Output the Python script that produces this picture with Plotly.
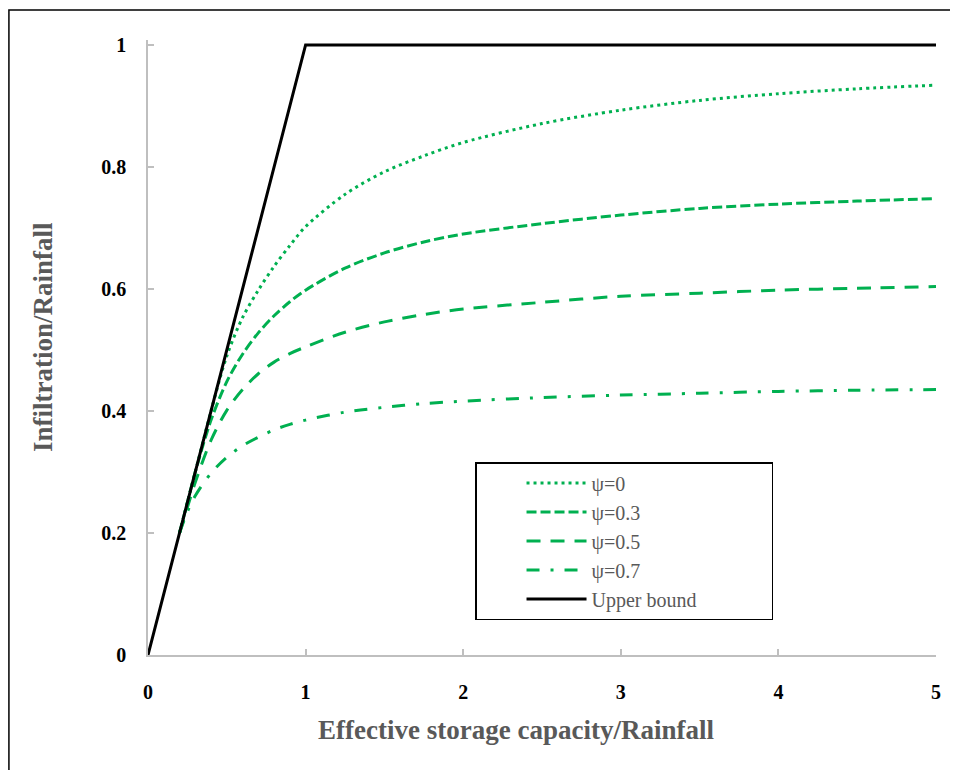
import plotly.graph_objects as go

# ---- data ----
x_pts = [0.2, 0.25, 0.3, 0.4, 0.5, 0.6, 0.7, 0.8, 0.9, 1.0, 1.25, 1.5, 1.75, 2.0, 2.5, 3.0, 3.5, 4.0, 4.5, 5.0]
psi_0 = [0.2, 0.25, 0.3, 0.4, 0.49, 0.553, 0.598, 0.637, 0.671, 0.702, 0.755, 0.792, 0.818, 0.840, 0.871, 0.893, 0.909, 0.920, 0.928, 0.934]
psi_03 = [0.2, 0.25, 0.3, 0.385, 0.448, 0.493, 0.528, 0.556, 0.579, 0.598, 0.634, 0.659, 0.677, 0.690, 0.707, 0.721, 0.732, 0.739, 0.744, 0.748]
psi_05 = [0.2, 0.242, 0.283, 0.352, 0.401, 0.435, 0.461, 0.480, 0.494, 0.505, 0.529, 0.546, 0.558, 0.567, 0.578, 0.588, 0.593, 0.598, 0.601, 0.604]
psi_07 = [0.2, 0.235, 0.261, 0.298, 0.324, 0.343, 0.357, 0.369, 0.378, 0.385, 0.398, 0.406, 0.412, 0.416, 0.422, 0.426, 0.429, 0.432, 0.434, 0.435]
bound_x = [0, 1, 5]
bound_y = [0, 1, 1]

series_names = ["ψ=0", "ψ=0.3", "ψ=0.5", "ψ=0.7"]
series_vals = [psi_0, psi_03, psi_05, psi_07]
series_dash = ["3px,4px", "10px,4px", "14px,10px", "13px,11px,3px,11px"]

x_ticks = [0, 1, 2, 3, 4, 5]
y_ticks = [0, 0.2, 0.4, 0.6, 0.8, 1]
y_tick_text = ["0", "0.2", "0.4", "0.6", "0.8", "1"]

GREEN = "#00B050"
SERIF = "Liberation Serif, Times New Roman, serif"
NB = "\u00a0"

fig = go.Figure()
for name, vals, dash in zip(series_names, series_vals, series_dash):
    fig.add_trace(go.Scatter(
        x=x_pts, y=vals, mode="lines", name=name,
        line=dict(color=GREEN, width=3, dash=dash, shape="spline", smoothing=0.9),
    ))
fig.add_trace(go.Scatter(
    x=bound_x, y=bound_y, mode="lines", name="Upper bound" + NB * 14,
    line=dict(color="black", width=3),
))

axis_common = dict(
    showgrid=False, zeroline=False, showline=True, linecolor="#BFBFBF", linewidth=1.5,
    ticks="inside", ticklen=6, tickwidth=1.5, tickcolor="#BFBFBF",
    tickfont=dict(family=SERIF, size=20, color="black", weight="bold"),
)

fig.update_layout(
    width=950, height=762,
    margin=dict(l=140, r=22, t=32, b=115),
    paper_bgcolor="white", plot_bgcolor="white",
    xaxis=dict(range=[0, 5], tickvals=x_ticks, ticklabelstandoff=18, **axis_common),
    yaxis=dict(range=[0, 1.008], tickvals=y_ticks, ticktext=y_tick_text, ticklabelstandoff=16, **axis_common),
    showlegend=True,
    legend=dict(
        x=0.415, y=0.3138, xanchor="left", yanchor="top",
        bgcolor="white", bordercolor="black", borderwidth=1.5,
        font=dict(family=SERIF, size=20, color="#595959"),
        itemwidth=60, tracegroupgap=0,
        title=dict(text=NB * 7, side="left", font=dict(family=SERIF, size=20)),
    ),
    annotations=[
        dict(text="<b>Effective storage capacity/Rainfall</b>", xref="paper", yref="paper",
             x=0.467, y=-0.122, xanchor="center", yanchor="middle", showarrow=False,
             font=dict(family=SERIF, size=27, color="#595959")),
        dict(text="<b>Infiltration/Rainfall</b>", xref="paper", yref="paper",
             x=-0.1332, y=0.517, xanchor="center", yanchor="middle", showarrow=False, textangle=-90,
             font=dict(family=SERIF, size=27, color="#595959")),
    ],
    shapes=[
        dict(type="rect", xref="paper", yref="paper", x0=-0.1765, y0=-0.3, x1=1.2, y1=1.0488,
             line=dict(color="black", width=1.5), fillcolor="rgba(0,0,0,0)", layer="below"),
    ],
)

fig.write_html("out.html")
